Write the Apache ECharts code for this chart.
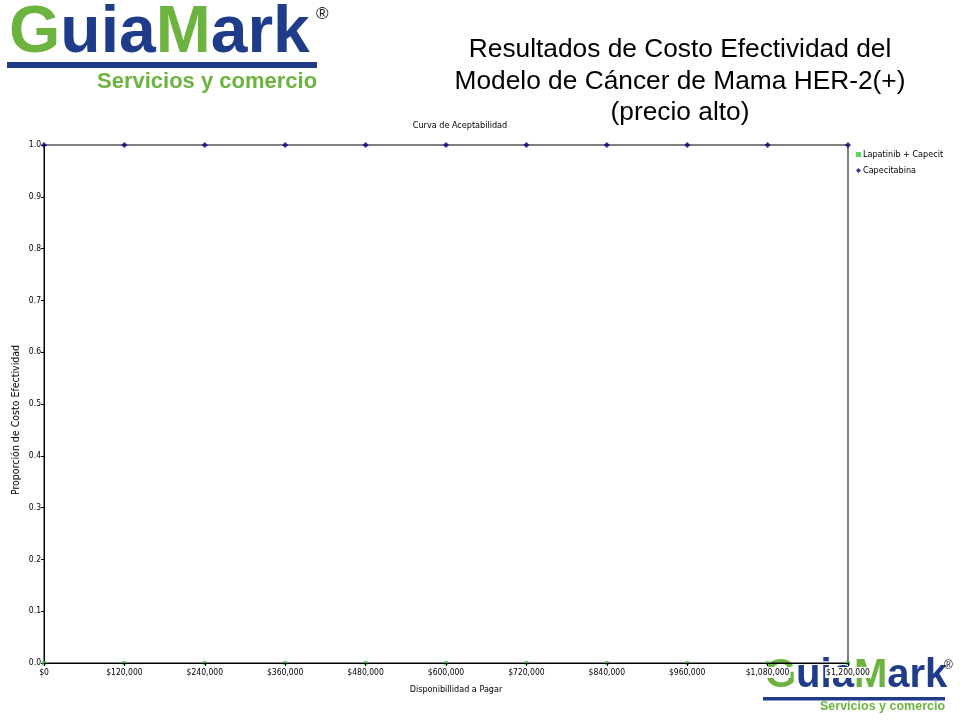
<!DOCTYPE html>
<html>
<head>
<meta charset="utf-8">
<script src="https://cdn.jsdelivr.net/npm/echarts@6/dist/echarts.min.js"></script>
<style>html,body{margin:0;padding:0;background:#fff;}#c{width:960px;height:720px;}</style>
</head>
<body>
<div id="c"></div>
<script>
var categories = [0, 120000, 240000, 360000, 480000, 600000, 720000, 840000, 960000, 1080000, 1200000];
var lapatinibCapecitabina = [0, 0, 0, 0, 0, 0, 0, 0, 0, 0, 0];
var capecitabina = [1, 1, 1, 1, 1, 1, 1, 1, 1, 1, 1];
var seriesNames = ['Lapatinib + Capecitabina', 'Capecitabina'];

var GREEN = '#6db33f', NAVY = '#1e3c8a';
var small = '"DejaVu Sans Condensed", "DejaVu Sans", sans-serif';
var arial = 'Arial, "Liberation Sans", sans-serif';

function money(v) {
  return '$' + String(Math.round(v)).replace(/\B(?=(\d{3})+(?!\d))/g, ',');
}
function pairs(arr) { return categories.map(function (x, i) { return [x, arr[i]]; }); }

function logo(x, y, size, barY, barW, subX, subY, subSize, regX, regY, regSize) {
  var rich = {
    g: { fill: GREEN, fontSize: size, fontWeight: 'bold', fontFamily: arial },
    b: { fill: NAVY, fontSize: size, fontWeight: 'bold', fontFamily: arial }
  };
  return [
    { type: 'text', z: 0, left: x, top: y, style: { text: '{g|G}{b|uia}{g|M}{b|ark}', rich: rich,
        textShadowColor: '#b8b8b8', textShadowOffsetX: size * 0.06, textShadowOffsetY: -size * 0.03, textShadowBlur: 0 } },
    { type: 'rect', z: 0, shape: { x: x - 2, y: barY, width: barW, height: Math.max(3, size * 0.09) }, style: { fill: NAVY } },
    { type: 'text', z: 0, left: subX, top: subY, style: { text: 'Servicios y comercio', fill: GREEN, fontSize: subSize, fontWeight: 'bold', fontFamily: arial } },
    { type: 'text', z: 0, left: regX, top: regY, style: { text: '®', fill: '#222', fontSize: regSize, fontFamily: arial } }
  ];
}

var graphics = [].concat(
  logo(9, 1, 66, 62, 310, 97, 71, 22, 316, 6, 17),
  logo(765, 656, 40, 697, 182, 820, 700, 12.5, 944, 660, 12)
);
graphics.push({
  type: 'text', z: 2, x: 680, y: 34,
  style: { text: 'Resultados de Costo Efectividad del\nModelo de Cáncer de Mama HER-2(+)\n(precio alto)',
    fill: '#000', fontSize: 26.3, lineHeight: 31.5, align: 'center', verticalAlign: 'top', fontFamily: arial }
});
graphics.push({
  type: 'text', z: 2, x: 16, y: 420, rotation: Math.PI / 2,
  style: { text: 'Proporción de Costo Efectividad', fill: '#000', fontSize: 10.5, align: 'center', verticalAlign: 'middle', fontFamily: small }
});

var chart = echarts.init(document.getElementById('c'));
chart.setOption({
  backgroundColor: '#fff',
  animation: false,
  graphic: graphics,
  title: {
    text: 'Curva de Aceptabilidad', left: 455, top: 116, textAlign: 'center',
    textStyle: { fontSize: 9, fontWeight: 'normal', color: '#000', fontFamily: small }
  },
  legend: {
    orient: 'vertical', left: 851, top: 145, itemWidth: 5, itemHeight: 5, itemGap: 7,
    data: [{ name: seriesNames[0], icon: 'rect' }, { name: seriesNames[1], icon: 'diamond' }],
    textStyle: { fontSize: 9, color: '#000', fontFamily: small, padding: [0, 0, 0, -3], width: 86, overflow: 'truncate', ellipsis: '' }
  },
  grid: { left: 44, right: 112, top: 145, bottom: 57, show: true, borderColor: '#000', borderWidth: 1, backgroundColor: 'transparent', z: 3 },
  xAxis: {
    type: 'value', min: 0, max: 1200000, interval: 120000, z: 10,
    name: 'Disponibillidad a Pagar', nameLocation: 'middle', nameGap: 22,
    nameTextStyle: { fontSize: 9, color: '#000', fontFamily: small, padding: [0, 0, 0, 20] },
    axisLine: { lineStyle: { color: '#000' } },
    axisTick: { length: 3, lineStyle: { color: '#000' } },
    splitLine: { show: false },
    axisLabel: { formatter: money, fontSize: 8.5, color: '#000', fontFamily: small, margin: 4,
      backgroundColor: '#fff', padding: [1, 1, 1, 1] }
  },
  yAxis: {
    type: 'value', min: 0, max: 1, interval: 0.1,
    axisLine: { show: true, lineStyle: { color: '#000' } },
    axisTick: { show: true, length: 3, lineStyle: { color: '#000' } },
    splitLine: { show: false },
    axisLabel: { formatter: function (v) { return v.toFixed(1); }, fontSize: 8.5, color: '#000', fontFamily: small, margin: 3 }
  },
  series: [
    { name: seriesNames[0], type: 'scatter', symbol: 'rect', symbolSize: 4, z: 5,
      itemStyle: { color: '#33cc33' }, data: pairs(lapatinibCapecitabina) },
    { name: seriesNames[1], type: 'scatter', symbol: 'diamond', symbolSize: 6, z: 5,
      itemStyle: { color: '#000080' }, data: pairs(capecitabina) }
  ]
});
</script>
</body>
</html>
